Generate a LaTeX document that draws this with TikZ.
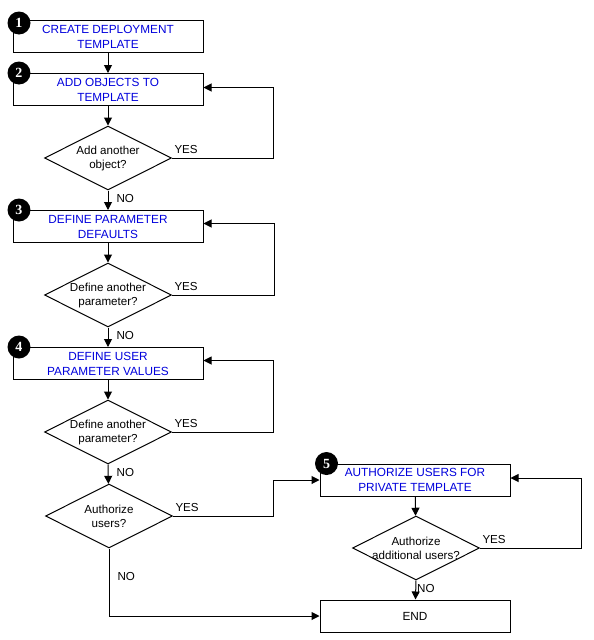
\documentclass[tikz,border=0pt]{standalone}
\usepackage{fontspec}
\setmainfont{Liberation Sans}
\newfontfamily\badgefont{Liberation Serif}
\usetikzlibrary{shapes.geometric, arrows.meta}
\definecolor{stepblue}{RGB}{0,0,220}
\tikzset{
    every picture/.style={x=1pt, y=-1pt, line width=1pt},
    task/.style={draw, rectangle, minimum width=190pt, minimum height=32pt,
        inner sep=0pt, align=center, text=stepblue, font=\fontsize{11.8}{15}\selectfont},
    decision/.style={draw, diamond, minimum width=127pt, minimum height=64pt, inner sep=0pt},
    ask/.style={align=center, font=\fontsize{11.6}{14}\selectfont},
    badge/.style={circle, fill=black, text=white, minimum size=23pt, inner sep=0pt,
        font=\badgefont\bfseries\fontsize{14}{14}\selectfont},
    flow/.style={-{Triangle[length=8pt, width=8pt]}},
    answer/.style={font=\fontsize{11.6}{13}\selectfont, inner sep=2pt}
}

\begin{document}
\begin{tikzpicture}
    \useasboundingbox (0,0) rectangle (594,640);
    % main column
    \node[task] (create) at (108,36.5) {CREATE DEPLOYMENT\\TEMPLATE};
    \node[task] (objects) at (108,89.5) {ADD OBJECTS TO\\TEMPLATE};
    \node[decision, label={[ask]center:Add another\\object?}] (moreobj) at (108,158) {};
    \node[task] (defaults) at (108,226.5) {DEFINE PARAMETER\\DEFAULTS};
    \node[decision, label={[ask]center:Define another\\parameter?}] (moreparA) at (108,295) {};
    \node[task] (values) at (108,363.5) {DEFINE USER\\PARAMETER VALUES};
    \node[decision, label={[ask]center:Define another\\parameter?}] (moreparB) at (108,432) {};
    \node[decision, label={[ask]center:Authorize\\users?}] (authq) at (109,516) {};
    % right column
    \node[task] (authorize) at (415,480) {AUTHORIZE USERS FOR\\PRIVATE TEMPLATE};
    \node[decision, label={[ask]center:Authorize\\additional users?}] (moreusers) at (416,548) {};
    \node[task, text=black] (finish) at (415,616) {END};
    % step numbers
    \node[badge] at ([xshift=6.5pt, yshift=-3pt]create.north west) {1};
    \node[badge] at ([xshift=6.5pt, yshift=0pt]objects.north west) {2};
    \node[badge] at ([xshift=6.5pt, yshift=0pt]defaults.north west) {3};
    \node[badge] at ([xshift=6.5pt, yshift=0pt]values.north west) {4};
    \node[badge] at ([xshift=7pt, yshift=0pt]authorize.north west) {5};

    % connectors
    \draw[flow] (create) -- (objects);
    \draw[flow] (objects) -- (moreobj);
    \draw[flow] (moreobj.east) node[answer, anchor=south west, yshift=2pt] {YES}
        -- ++(101,0) |- ([yshift=2pt]objects.east);
    \draw[flow] (moreobj.south) -- node[answer, right, xshift=6pt, yshift=2pt] {NO} (defaults);
    \draw[flow] (defaults) -- (moreparA);
    \draw[flow] (moreparA.east) node[answer, anchor=south west, yshift=2pt] {YES}
        -- ++(102,0) |- ([yshift=3pt]defaults.east);
    \draw[flow] (moreparA.south) -- node[answer, right, xshift=6pt, yshift=2pt] {NO} (values);
    \draw[flow] (values) -- (moreparB);
    \draw[flow] (moreparB.east) node[answer, anchor=south west, yshift=2pt] {YES}
        -- ++(101,0) |- ([yshift=3pt]values.east);
    \draw[flow] (moreparB.south) -- node[answer, right, xshift=6pt, yshift=2pt] {NO} (authq);
    \draw[flow] (authq.east) node[answer, anchor=south west, yshift=2pt] {YES}
        -- ++(100,0) |- (authorize.west);
    \draw[flow] (authq.south) |- node[answer, pos=0.21, right, xshift=6pt] {NO} (finish.west);
    \draw[flow] (authorize) -- (moreusers);
    \draw[flow] (moreusers.east) node[answer, anchor=south west, yshift=2pt] {YES}
        -- ++(101,0) |- ([yshift=2pt]authorize.east);
    \draw[flow] (moreusers.south) -- node[answer, right, xshift=-1pt, yshift=2pt] {NO} (finish);
\end{tikzpicture}
\end{document}
